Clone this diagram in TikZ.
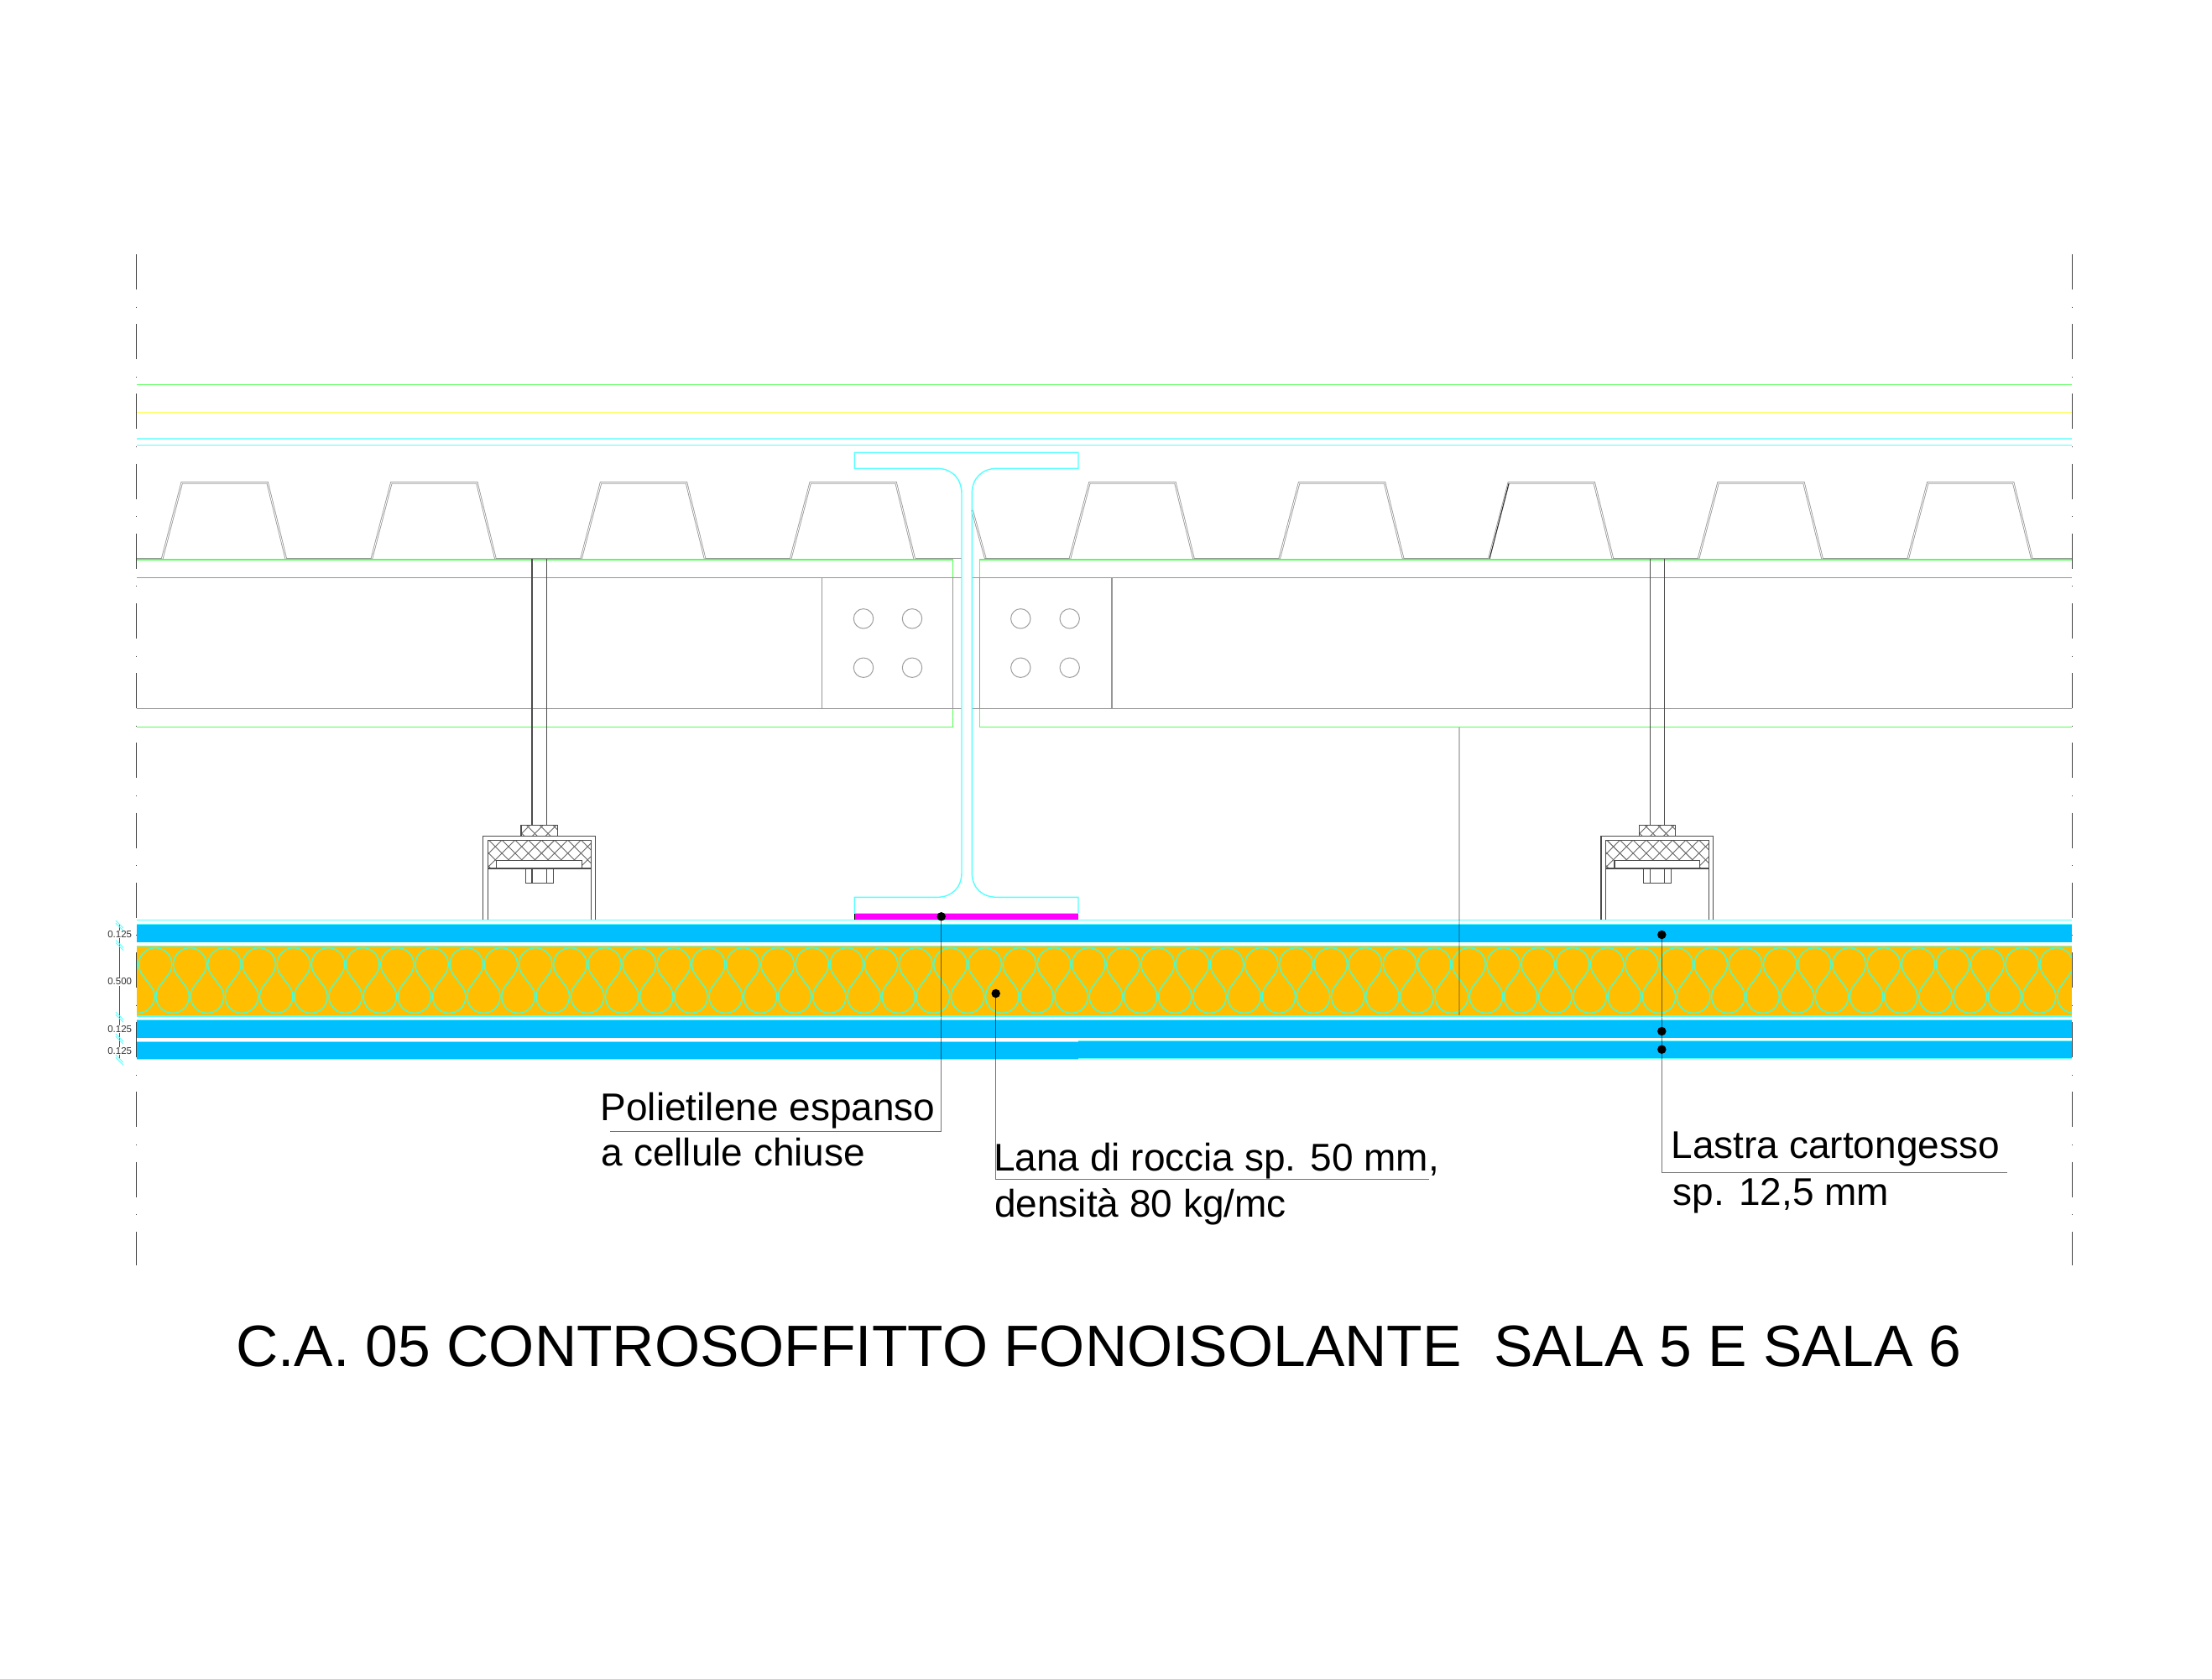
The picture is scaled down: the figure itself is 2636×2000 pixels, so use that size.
\documentclass[tikz,border=0pt]{standalone}
\usepackage{fontspec}
\setmainfont{Liberation Sans}
\definecolor{bandblue}{HTML}{00BFFF}
\definecolor{bandorange}{HTML}{FFBF00}
\definecolor{cadgreen}{HTML}{55FF55}
\definecolor{cadyellow}{HTML}{FFFF66}
\definecolor{cadcyan}{HTML}{55FFFF}
\definecolor{cadgray}{HTML}{969696}
\definecolor{cadmagenta}{HTML}{FF00FF}
\definecolor{woolline}{HTML}{40FFE0}
\tikzset{
  greenline/.style={draw=cadgreen,line width=1.4bp},
  cyanline/.style={draw=cadcyan,line width=1.4bp},
  grayline/.style={draw=cadgray,line width=1.2bp},
  sheet/.style={draw=black!42,line width=.8bp,double=white,double distance=.9bp,line join=miter},
  darkline/.style={draw=black!70,line width=1.1bp},
  hatchline/.style={draw=black!60,line width=.9bp},
  leader/.style={draw=black,opacity=.55,line width=1.3bp},
  leaderdot/.style={circle,fill=black,inner sep=0pt,minimum size=10.5bp},
  annot/.style={anchor=base west,inner sep=0pt,font=\fontsize{46bp}{50bp}\selectfont},
  headline/.style={anchor=base west,inner sep=0pt,font=\fontsize{69.6bp}{72bp}\selectfont},
  dimtext/.style={fill=white,inner sep=.6bp,font=\fontsize{11.5bp}{13bp}\selectfont,text=black!80},
  boltcircle/.style={draw=black!38,line width=1bp},
  tick/.style={draw=cadcyan,line width=.9bp},
}
\begin{document}
\begin{tikzpicture}[x=1bp,y=-1bp]
\useasboundingbox (0,0) rectangle (2636,2000);
\fill[white] (0,0) rectangle (2636,2000);

% upper slab lines
\draw[greenline] (163,458.7) -- (2469,458.7);
\draw[draw=cadyellow,line width=1.2bp] (163,491.3) -- (2469,491.3);
\draw[draw=cadcyan!70!white,line width=2.2bp] (163,523) -- (2469,523);
\draw[cyanline] (163,530.3) -- (2469,530.3);

% corrugated deck, left part
\draw[grayline] (163,665.6) -- (193.3,665.6)
  (340.7,665.6) -- (442.9,665.6) (590.4,665.6) -- (692.6,665.6)
  (840.1,665.6) -- (942.4,665.6) (1090.7,665.6) -- (1146,665.6);
\foreach \k in {0,1,2,3}{
  \pgfmathsetmacro{\bl}{193.3+\k*249.65}
  \draw[sheet] (\bl,665.6) -- ++(23.4,-90.3) -- ++(102,0) -- ++(22,90.3);
}
% corrugated deck, right part
\draw[sheet] (1158.6,608) -- (1174.3,665.6);
\draw[grayline] (1174.3,665.6) -- (1275,665.6)
  (1422.4,665.6) -- (1524.7,665.6) (1672.1,665.6) -- (1774.4,665.6)
  (1921.8,665.6) -- (2024,665.6) (2171.5,665.6) -- (2273.8,665.6) (2421.2,665.6) -- (2469,665.6);
\foreach \k in {0,1,2,3,4}{
  \pgfmathsetmacro{\bl}{1275+\k*249.7}
  \draw[sheet] (\bl,665.6) -- ++(23.4,-90.3) -- ++(102,0) -- ++(22,90.3);
}
\draw[draw=black!85,line width=.9bp] (1775,666) -- (1798,576);

% purlin lines
\draw[greenline] (163,667) -- (1135.7,667) -- (1135.7,866.7) -- (163,866.7);
\draw[greenline] (2469,667) -- (1167.7,667) -- (1167.7,866.7) -- (2469,866.7);
\draw[grayline] (163,688.5) -- (1146,688.5) (1158.3,688.5) -- (2469,688.5)
  (163,844.5) -- (1146,844.5) (1158.3,844.5) -- (2469,844.5)
  (979.3,688.5) -- (979.3,844.5) (1135.7,688.5) -- (1135.7,844.5)
  (1167.7,688.5) -- (1167.7,844.5) (1325,688.5) -- (1325,844.5);
\foreach \cx in {1029,1087,1216.3,1274.7}
  \foreach \cy in {737.3,795.7}
    \draw[boltcircle] (\cx,\cy) circle[radius=11.7];

% I beam
\draw[cyanline] (1116.7,558.3) -- (1018.3,558.3) -- (1018.3,539.3) -- (1285,539.3) -- (1285,558.3) -- (1188.3,558.3)
  .. controls (1170,558.3) and (1158.3,570) .. (1158.3,588.3) -- (1158.3,1040)
  .. controls (1158.3,1058) and (1170,1069.3) .. (1188.3,1069.3) -- (1285,1069.3) -- (1285,1088.3)
  (1018.3,1088.3) -- (1018.3,1069.3) -- (1116.7,1069.3)
  .. controls (1134,1069.3) and (1146,1058) .. (1146,1040) -- (1146,588.3)
  .. controls (1146,570) and (1134,558.3) .. (1116.7,558.3);
\fill[cadmagenta] (1018.3,1088.3) rectangle (1285,1096.7);
\draw[cyanline,line width=.9bp] (1018.3,1088.3) -- (1285,1088.3);
\draw[draw=black,line width=1bp] (1018.3,1089) -- (1018.3,1096);

% thin partition line
\draw[draw=black!25,line width=1.2bp] (1739,866.7) -- (1739,1096);

% hangers
\foreach \dx in {0,1332.3}{
\begin{scope}[xshift=\dx bp]
  \draw[darkline] (634,666) -- (634,983.3) (651.3,666) -- (651.3,983.3);
  \begin{scope}
    \clip (621,983.3) rectangle (664.3,996.7) (581.3,1001.7) rectangle (704.3,1035);
    \foreach \i in {-6,...,14}{
      \draw[hatchline] (575+\i*15.7,1040) -- ++(62,-62);
      \draw[hatchline] (575+\i*15.7,978) -- ++(62,62);
    }
  \end{scope}
  \draw[darkline] (621,996.7) -- (621,983.3) -- (664.3,983.3) -- (664.3,996.7);
  \draw[darkline] (575.7,1096.5) -- (575.7,996.7) -- (709.3,996.7) -- (709.3,1096.5);
  \draw[darkline] (581.3,1096.5) -- (581.3,1001.7) -- (704.3,1001.7) -- (704.3,1096.5);
  \draw[darkline,fill=white] (591.7,1035) -- (591.7,1025.7) -- (693.3,1025.7) -- (693.3,1035);
  \draw[darkline] (581.3,1035) -- (704.3,1035);
  \draw[darkline] (626.3,1035) -- (626.3,1052.3) -- (659.3,1052.3) -- (659.3,1035)
     (634,1035) -- (634,1052.3) (651.3,1035) -- (651.3,1052.3);
\end{scope}}

% layers
\draw[cyanline] (163,1096.7) -- (2469,1096.7);
\fill[bandblue] (163,1101.7) rectangle (2469,1122.7);
\draw[cyanline,line width=.9bp] (163,1101.5) -- (2469,1101.5);
\fill[bandorange] (163,1127) rectangle (2469,1210.5);
\begin{scope}
  \clip (163,1127) rectangle (2469,1210.5);
  \draw[draw=woolline,line width=1.3bp] (128.1,1161.16)
    \foreach \i in {0,...,57}{
      arc[start angle=143,end angle=397,radius=19.7] -- ++(-10.87,14.6)
      arc[start angle=217,end angle=-37,radius=19.7] -- ++(-10.87,-14.6)
    };
\end{scope}
\draw[cyanline,line width=.9bp] (163,1127.2) -- (2469,1127.2);
\draw[cyanline] (163,1211) -- (2469,1211);
\fill[bandblue] (163,1215.7) rectangle (2469,1237);
\draw[cyanline,line width=.9bp] (163,1215.5) -- (2469,1215.5);
\fill[bandblue] (163,1241.7) rectangle (1285,1262.3);
\fill[bandblue] (1285,1240.5) rectangle (2469,1261.3);
\draw[cyanline,line width=.9bp] (163,1241.5) -- (1285,1241.5) (1285,1240.3) -- (2469,1240.3)
  (163,1262.3) -- (1285,1262.3) (1285,1261.3) -- (2469,1261.3);
\draw[draw=black,opacity=.22,line width=1.2bp] (1739,1096) -- (1739,1210);

% break lines
\draw[draw=black!75,line width=1.5bp,dash pattern=on 42bp off 20.6bp on 1bp off 19.6bp] (162.7,303) -- (162.7,1508);
\draw[draw=black!75,line width=1.5bp,dash pattern=on 42bp off 20.6bp on 1bp off 19.6bp] (2469.3,303) -- (2469.3,1508);

% dimensions
\draw[draw=black!70,line width=1bp] (142.3,1101) -- (142.3,1262);
\foreach \ty in {1101.7,1125,1210.7,1236.7,1261.7}{
  \draw[tick] (138,\ty-4.5) -- ++(9,9);
  \draw[tick] (138,\ty-1.5) -- ++(9,9);
}
\node[dimtext] (dima) at (142.7,1113.3) {0.125};
\node[dimtext] (dimb) at (142.7,1170) {0.500};
\node[dimtext] (dimc) at (142.7,1226.7) {0.125};
\node[dimtext] (dimd) at (142.7,1252.3) {0.125};

% leaders
\node[leaderdot] (dotfoam) at (1121.7,1092.3) {};
\node[leaderdot] (dotwool) at (1186.7,1184) {};
\node[leaderdot] (dotboarda) at (1980.3,1114) {};
\node[leaderdot] (dotboardb) at (1980.3,1229) {};
\node[leaderdot] (dotboardc) at (1980.3,1250.7) {};
\coordinate (kneefoam) at (1121.7,1348.3);
\coordinate (endfoam) at (727,1348.3);
\coordinate (kneewool) at (1186.7,1405.3);
\coordinate (endwool) at (1703,1405.3);
\coordinate (kneeboard) at (1980.3,1397.7);
\coordinate (endboard) at (2392,1397.7);
\draw[leader] (dotfoam.center) -- (kneefoam) -- (endfoam);
\draw[leader] (dotwool.center) -- (kneewool) -- (endwool);
\draw[leader] (dotboarda.center) -- (kneeboard) -- (endboard);

% labels
\node[annot] (lfoama) at (715.5,1335) {Polietilene espanso};
\node[annot] (lfoamb) at (716.5,1389) {a cellule chiuse};
\node[annot] (lwoola) at (1184,1395) {Lana di roccia sp. 50 mm,};
\node[annot] (lwoolb) at (1185,1450) {densità 80 kg/mc};
\node[annot] (lboarda) at (1991.5,1380.7) {Lastra cartongesso};
\node[annot] (lboardb) at (1993.5,1436.7) {sp. 12,5 mm};
\node[headline] (title) at (281,1628) {C.A. 05 CONTROSOFFITTO FONOISOLANTE\ \ SALA 5 E SALA 6};
\end{tikzpicture}
\end{document}
